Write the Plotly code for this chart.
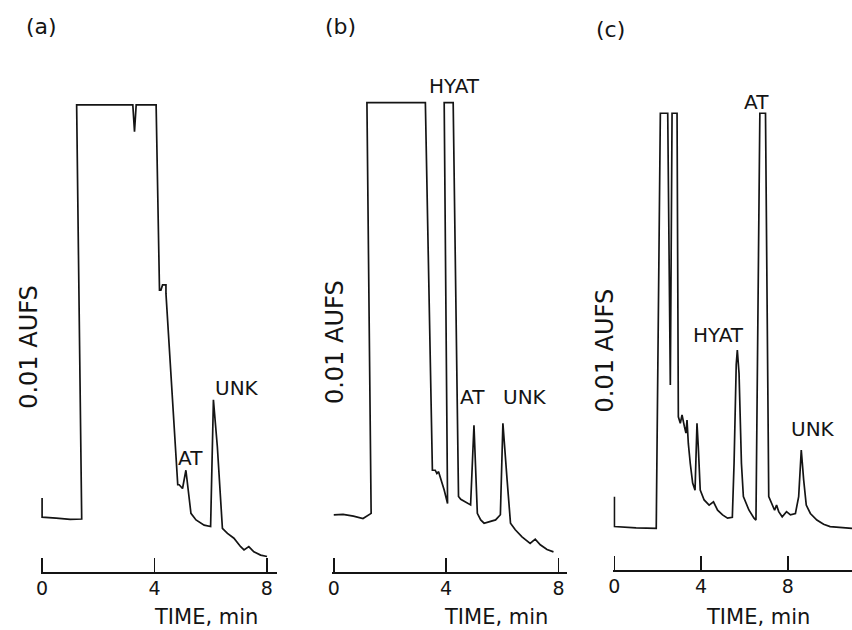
import plotly.graph_objects as go

# ---- data (time in min, detector response in % of pen full scale) ----
a_time = [0, 0, 0.5, 1.0, 1.41, 1.23, 3.23, 3.29, 3.35, 4.06, 4.18, 4.23, 4.29, 4.41, 4.41,
          4.83, 4.88, 5.0, 5.12, 5.30, 5.48, 5.77, 6.0, 6.10, 6.24, 6.42, 6.6, 6.83, 7.07,
          7.19, 7.36, 7.54, 7.78, 8.01]
a_resp = [15.8, 11.7, 11.5, 11.2, 11.3, 99.6, 99.6, 93.9, 99.6, 99.6, 60.1, 60.1, 61.2, 61.2, 59.4,
          18.6, 18.6, 17.8, 21.7, 12.5, 11.1, 10.0, 9.7, 36.7, 26.7, 9.3, 8.25, 7.2, 5.4,
          4.7, 5.4, 4.3, 3.6, 3.3]

b_time = [0, 0.33, 0.7, 1.04, 1.33, 1.18, 3.26, 3.40, 3.51, 3.61, 3.67, 3.73, 3.81, 3.93, 4.05,
          3.93, 4.25, 4.34, 4.44, 4.52, 4.69, 4.87, 4.99, 5.11, 5.23, 5.35, 5.52, 5.76, 5.93,
          6.02, 6.17, 6.29, 6.46, 6.70, 6.99, 7.17, 7.35, 7.59, 7.82]
b_resp = [12.2, 12.3, 11.9, 11.4, 12.5, 100.1, 100.1, 56.6, 21.7, 21.7, 21.0, 21.4, 20.0, 17.5, 14.6,
          100.1, 100.1, 56.6, 16.1, 15.5, 15.0, 14.3, 31.3, 12.5, 11.1, 10.4, 10.7, 11.1, 12.2,
          31.7, 19.6, 10.4, 9.0, 7.5, 6.1, 7.0, 5.8, 4.8, 4.3]

c_time = [0, 0, 1.0, 1.93, 2.12, 2.46, 2.58, 2.66, 2.89, 2.95, 3.04, 3.12, 3.23, 3.30, 3.35,
          3.41, 3.50, 3.61, 3.72, 3.81, 3.87, 3.96, 4.14, 4.37, 4.57, 4.76, 4.99, 5.22, 5.44,
          5.52, 5.62, 5.67, 5.75, 5.86, 5.95, 6.21, 6.44, 6.53, 6.71, 6.97, 7.12, 7.28, 7.39,
          7.48, 7.58, 7.74, 7.94, 8.12, 8.35, 8.50, 8.62, 8.73, 8.85, 9.04, 9.34, 9.65, 9.95, 10.96]
c_resp = [15.7, 9.3, 9.0, 8.9, 97.8, 97.8, 39.6, 97.8, 97.8, 32.8, 31.4, 33.2, 30.7, 29.3, 32.1,
          27.1, 22.8, 18.6, 17.1, 31.4, 26.4, 17.1, 15.0, 13.9, 14.6, 12.8, 11.8, 11.1, 11.3,
          22.8, 44.0, 47.1, 42.1, 22.8, 15.7, 12.8, 11.1, 10.7, 97.8, 97.8, 15.7, 13.9, 12.8,
          13.9, 12.5, 11.4, 12.5, 11.8, 12.1, 15.7, 25.7, 19.3, 13.9, 12.1, 10.7, 9.8, 9.3, 8.9]

tick_vals = [0, 4, 8]
tick_text = ["0", "4", "8"]
panel_names = ["(a)", "(b)", "(c)"]
y_title = "0.01 AUFS"
x_title = "TIME, min"

# peak labels: (panel, text, time, response)
peak_labels = [
    (0, "AT", 5.30, 24.3), (0, "UNK", 6.94, 39.2),
    (1, "HYAT", 4.29, 103.6), (1, "AT", 4.95, 37.3), (1, "UNK", 6.82, 37.3),
    (2, "AT", 6.55, 100.2), (2, "HYAT", 4.79, 50.3), (2, "UNK", 9.15, 30.2),
]

W, H = 852, 630
OFF = 0          # body margin is removed below, so page pixels == figure pixels
INK = "#141414"
FONT = "DejaVu Sans"


def fx(p):
    return (p - OFF) / W


def fy(p):
    return 1 - (p - OFF) / H


fig = go.Figure()
series = [(a_time, a_resp), (b_time, b_resp), (c_time, c_resp)]
for i, (t, r) in enumerate(series):
    sfx = "" if i == 0 else str(i + 1)
    fig.add_trace(go.Scatter(x=t, y=r, mode="lines", xaxis="x" + sfx, yaxis="y" + sfx,
                             line=dict(color=INK, width=1.7), showlegend=False,
                             hoverinfo="skip"))

# layout geometry (page pixels): x-axis left/right edge, x range, axis baseline, px per unit
geo = [
    dict(left=35.9, right=273.5, rng=[-0.05, 8.36], base=572, scale=4.69),
    dict(left=329.3, right=565.0, rng=[-0.05, 8.29], base=572, scale=4.69),
    dict(left=611.9, right=852.0, rng=[-0.05, 10.96], base=570, scale=4.67),
]

layout = dict(width=W, height=H, margin=dict(l=0, r=0, t=0, b=0),
              paper_bgcolor="white", plot_bgcolor="white",
              font=dict(family=FONT, color=INK), showlegend=False)

for i, g in enumerate(geo):
    sfx = "" if i == 0 else str(i + 1)
    layout["xaxis" + sfx] = dict(
        domain=[fx(g["left"]), min(1.0, fx(g["right"]))], range=g["rng"], anchor="y" + sfx,
        showline=True, linecolor=INK, linewidth=2, showgrid=False, zeroline=False,
        ticks="inside", ticklen=14, tickwidth=1.5, tickcolor=INK,
        tickvals=tick_vals, ticktext=tick_text,
        tickfont=dict(family=FONT, size=19, color=INK), ticklabelstandoff=-2,
        fixedrange=True)
    layout["yaxis" + sfx] = dict(
        domain=[fy(g["base"]), 1], range=[0, (g["base"] - OFF) / g["scale"]],
        anchor="x" + sfx, visible=False, fixedrange=True)

fig.update_layout(**layout)

ann = []
panel_pos = [(37, 27), (337, 27), (609, 29)]
for name, (px, py) in zip(panel_names, panel_pos):
    ann.append(dict(text=name, xref="paper", yref="paper", x=fx(px), y=fy(py),
                    xanchor="center", yanchor="middle", showarrow=False,
                    font=dict(size=22, family=FONT, color=INK)))

ytitle_pos = [(24, 347), (332, 342), (604, 350)]
for px, py in ytitle_pos:
    ann.append(dict(text=y_title, xref="paper", yref="paper", x=fx(px), y=fy(py),
                    xanchor="center", yanchor="middle", textangle=-90, showarrow=False,
                    font=dict(size=24, family=FONT, color=INK)))

xtitle_pos = [(202, 617), (494, 617), (757, 617)]
for px, py in xtitle_pos:
    ann.append(dict(text=x_title, xref="paper", yref="paper", x=fx(px), y=fy(py),
                    xanchor="center", yanchor="middle", showarrow=False, borderpad=0,
                    font=dict(size=21, family=FONT, color=INK)))

for panel, txt, t, r in peak_labels:
    sfx = "" if panel == 0 else str(panel + 1)
    ann.append(dict(text=txt, xref="x" + sfx, yref="y" + sfx, x=t, y=r,
                    xanchor="center", yanchor="middle", showarrow=False,
                    font=dict(size=20, family=FONT, color=INK)))

fig.update_layout(annotations=ann)
fig.write_html("out.html",
               config={"displayModeBar": False, "staticPlot": True},
               post_script="document.body.style.margin='0';document.body.style.overflow='hidden';")
